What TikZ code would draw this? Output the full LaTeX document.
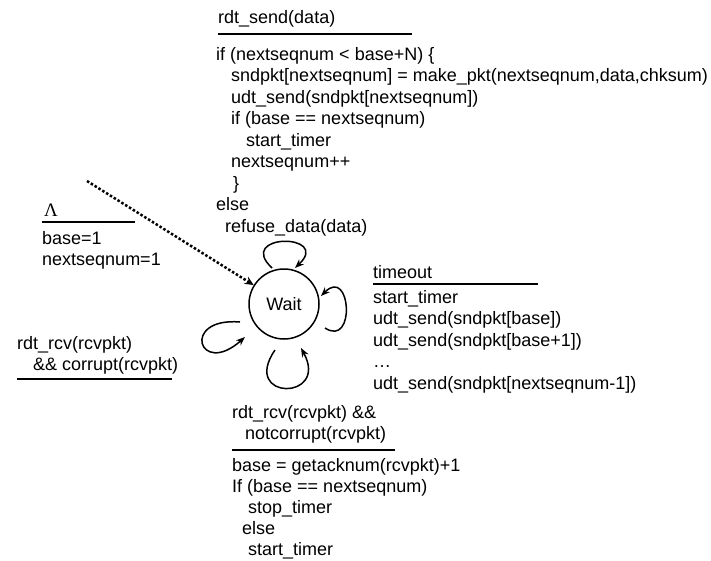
\documentclass[tikz,border=0pt]{standalone}
\usepackage{fontspec}
\setmainfont{Liberation Sans}
\newfontfamily\lamfont{Liberation Serif}
\usetikzlibrary{arrows.meta}
\tikzset{
  txt/.style={anchor=base west, inner sep=0pt, align=left,
    font=\fontsize{18}{21.5}\selectfont},
  block/.style={txt, anchor=north west},
  underline/.style={line width=2.5pt},
  selfloop/.style={line width=1.5pt, -{Stealth[length=9pt,width=7pt]}},
}
\begin{document}
\begin{tikzpicture}[x=1pt,y=-1pt]
      \useasboundingbox (0,0) rectangle (711,560);
      \node[circle, draw, line width=1.5pt, minimum size=70pt, inner sep=0pt,
        font=\fontsize{18}{21.5}\selectfont] (wait) at (284,304) {Wait};
      % initial transition
      \coordinate (init) at (87,181);
      \node[txt, font=\fontsize{19}{21.5}\lamfont] (lam) at (44,216) {Λ};
      \draw[underline] (42,222) -- (135,222);
      \node[block] (initact) at (42,231) {base=1\\nextseqnum=1};
      % rdt_send
      \node[txt] (send) at (218,23) {rdt\_send(data)};
      \draw[underline] (218,34) -- (412,34);
      \node[block] (sendact) at (216,47) {if (nextseqnum < base+N) \{\\
        \hspace*{15pt}sndpkt[nextseqnum] = make\_pkt(nextseqnum,data,chksum)\\
        \hspace*{15pt}udt\_send(sndpkt[nextseqnum])\\
        \hspace*{15pt}if (base == nextseqnum)\\
        \hspace*{30pt}start\_timer\\
        \hspace*{15pt}nextseqnum++\\
        \hspace*{17pt}\}\\
        else\\
        \hspace*{9pt}refuse\_data(data)};
      % timeout
      \node[txt] (tmo) at (373,278) {timeout};
      \draw[underline] (373,284) -- (538,284);
      \node[block] (tmoact) at (373,290) {start\_timer\\
        udt\_send(sndpkt[base])\\
        udt\_send(sndpkt[base+1])\\
        …\\
        udt\_send(sndpkt[nextseqnum-1])};
      % corrupt ack
      \node[block] (corr) at (17,336) {rdt\_rcv(rcvpkt)\\
        \hspace*{16pt}\&\& corrupt(rcvpkt)};
      \draw[underline] (17,379) -- (172,379);
      % good ack
      \node[block] (ack) at (232,405) {rdt\_rcv(rcvpkt) \&\&\\
        \hspace*{13pt}notcorrupt(rcvpkt)};
      \draw[underline] (232,450) -- (395,450);
      \node[block, font=\fontsize{18}{21}\selectfont] (ackact) at (232,458) {base = getacknum(rcvpkt)+1\\
        If (base == nextseqnum)\\
        \hspace*{16pt}stop\_timer\\
        \hspace*{10pt}else\\
        \hspace*{16pt}start\_timer};
      \draw[line width=2.5pt, dash pattern=on 2.5pt off 2pt, -{Stealth[length=9pt,width=8pt]}] (init) -- (wait);
      \begin{scope}[selfloop]
        \draw ([shift={(-12,-36)}]wait.center) .. controls +(-37,-35) and +(37,-35) .. ([shift={(11,-36)}]wait.center);
        \draw ([shift={(41,24)}]wait.center) .. controls +(31,20) and +(30,-30) .. ([shift={(37,-8)}]wait.center);
        \draw ([shift={(-44,18)}]wait.center) .. controls +(-60,-5) and +(-46,41) .. ([shift={(-39,33)}]wait.center);
        \draw ([shift={(-9,46)}]wait.center) .. controls +(-35,51) and +(29,53) .. ([shift={(17,44)}]wait.center);
      \end{scope}
    \end{tikzpicture}
\end{document}
